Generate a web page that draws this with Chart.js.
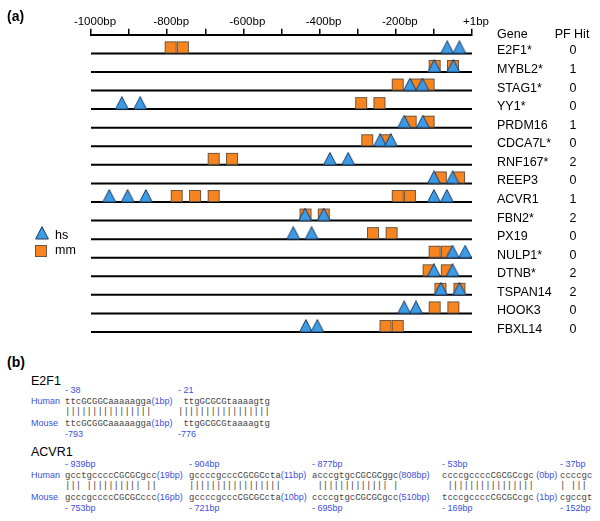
<!DOCTYPE html>
<html>
<head>
<meta charset="utf-8">
<script src="https://cdn.jsdelivr.net/npm/chart.js@4.4.0/dist/chart.umd.min.js"></script>
<style>
  body { margin: 0; background: #fff; width: 600px; height: 521px; position: relative; overflow: hidden;
         font-family: "Liberation Sans", Arial, sans-serif; }
  #wrap { position: absolute; left: 0; top: 0; width: 600px; height: 345px; }
  .t { position: absolute; white-space: pre; line-height: 1; }
  .lab { font-size: 14px; font-weight: bold; color: #000; }
  .gene { font-size: 12.5px; color: #000; }
  .sp { font-size: 9px; color: #3b4fe0; }
  .seq { font-family: "Liberation Mono", monospace; font-size: 9px; color: #444; }
  .bp { font-family: "Liberation Sans", Arial, sans-serif; font-size: 9px; color: #3b4fe0; }
</style>
</head>
<body>
<div id="wrap"><canvas id="myChart" width="600" height="345"></canvas></div>
<script>
// genes (rows, top to bottom) and PF hit counts
const genes = ['E2F1*', 'MYBL2*', 'STAG1*', 'YY1*', 'PRDM16', 'CDCA7L*', 'RNF167*', 'REEP3',
               'ACVR1', 'FBN2*', 'PX19', 'NULP1*', 'DTNB*', 'TSPAN14', 'HOOK3', 'FBXL14'];
const pfHit = [0, 1, 0, 0, 1, 0, 2, 0, 1, 2, 0, 0, 2, 2, 0, 0];

// human (hs) sites, bp upstream, one list per gene
const hsSites = [
  [-65, -33], [-99, -49], [-163, -130], [-919, -871], [-178, -129], [-241, -213],
  [-373, -325], [-100, -51], [-952, -904, -856, -100, -66], [-438, -389], [-469, -421],
  [-51, -18], [-100, -51], [-82, -33], [-178, -147], [-436, -406]
];
// mouse (mm) sites
const mmSites = [
  [-791, -759], [-98, -50], [-195, -146, -114], [-291, -243], [-161, -114], [-275, -227],
  [-678, -630], [-82, -34], [-775, -727, -678, -195, -163], [-437, -389], [-260, -211],
  [-98, -66], [-114, -66], [-83, -33], [-98, -49], [-227, -195]
];

const tickLabels = {0: '+1bp', '-200': '-200bp', '-400': '-400bp', '-600': '-600bp', '-800': '-800bp', '-1000': '-1000bp'};

// marker images: shape sits on top of the point (bottom edge at the centre)
function makeTri() {
  const c = document.createElement('canvas');
  c.width = 14; c.height = 26;
  const g = c.getContext('2d');
  g.beginPath();
  g.moveTo(7, 0.6); g.lineTo(13.4, 13); g.lineTo(0.6, 13); g.closePath();
  g.fillStyle = '#3d9be6'; g.fill();
  g.strokeStyle = '#1f3a60'; g.lineWidth = 1; g.stroke();
  return c;
}
function makeSq() {
  const c = document.createElement('canvas');
  c.width = 14; c.height = 26;
  const g = c.getContext('2d');
  g.fillStyle = '#f7841f';
  g.fillRect(1, 1, 12, 12);
  g.strokeStyle = '#6e5640'; g.lineWidth = 1;
  g.strokeRect(1.5, 1.5, 11, 11);
  return c;
}
const triImg = makeTri();
const sqImg = makeSq();

// gene / PF hit columns and the hs / mm key
const tablePlugin = {
  id: 'geneTable',
  afterDraw(chart) {
    const ctx = chart.ctx;
    const y = chart.scales.y;
    ctx.save();
    ctx.fillStyle = '#000';
    ctx.font = '12.5px "Liberation Sans", Arial, sans-serif';
    ctx.textBaseline = 'alphabetic';
    ctx.textAlign = 'left';
    ctx.fillText('Gene', 497, 38);
    ctx.textAlign = 'center';
    ctx.fillText('PF Hit', 572, 38);
    genes.forEach((g, i) => {
      const py = y.getPixelForValue(i) + 1;
      ctx.textAlign = 'left';
      ctx.fillText(g, 497, py);
      ctx.textAlign = 'center';
      ctx.fillText(String(pfHit[i]), 573, py);
    });
    ctx.drawImage(triImg, 35, 226);
    ctx.drawImage(sqImg, 34, 244);
    ctx.textAlign = 'left';
    ctx.fillText('hs', 55, 238.5);
    ctx.fillText('mm', 55, 254);
    ctx.restore();
  }
};

function loadChart() {
  const ctx = document.getElementById('myChart').getContext('2d');

  const rowLines = genes.map((g, i) => ({
    label: g,
    data: [{x: -1000, y: i}, {x: 0, y: i}],
    showLine: true,
    borderColor: '#000',
    borderWidth: 2,
    pointRadius: 0,
    order: 2,
    clip: false
  }));

  const hsData = hsSites.flatMap((arr, i) => arr.map(x => ({x: x, y: i})));
  const mmData = mmSites.flatMap((arr, i) => arr.map(x => ({x: x, y: i})));

  new Chart(ctx, {
    type: 'scatter',
    data: {
      datasets: [
        {label: 'hs', data: hsData, pointStyle: triImg, pointRadius: 7, order: 0, clip: false},
        {label: 'mm', data: mmData, pointStyle: sqImg, pointRadius: 7, order: 1, clip: false},
        ...rowLines
      ]
    },
    options: {
      responsive: false,
      animation: false,
      events: [],
      layout: {padding: {left: 91, right: 128, top: 15, bottom: 13}},
      plugins: {legend: {display: false}, tooltip: {enabled: false}},
      scales: {
        x: {
          type: 'linear',
          position: 'top',
          min: -1000,
          max: 0,
          ticks: {
            stepSize: 100,
            autoSkip: false,
            maxRotation: 0,
            padding: 0,
            labelOffset: 4,
            color: '#000',
            font: {family: '"Liberation Sans", Arial, sans-serif', size: 11.5},
            callback: v => tickLabels[v] || ''
          },
          grid: {drawOnChartArea: false, drawTicks: true, tickLength: 6, color: '#000', lineWidth: 1.5},
          border: {display: true, color: '#000', width: 2}
        },
        y: {type: 'linear', min: -1, max: 15, reverse: true, display: false}
      }
    },
    plugins: [tablePlugin]
  });
}

// part (b): alignment text
function put(x, y, html, cls) {
  const s = document.createElement('span');
  s.className = 't ' + cls;
  s.innerHTML = html;
  s.style.left = x + 'px';
  s.style.top = y + 'px';
  document.body.appendChild(s);
}
function pipes(a, b) {
  let out = '';
  for (let i = 0; i < a.length; i++) out += (a[i].toLowerCase() === b[i].toLowerCase()) ? '|' : ' ';
  return out;
}
function alignBlock(top, chunks) {
  put(31, top + 14, 'Human', 'sp');
  put(31, top + 36, 'Mouse', 'sp');
  chunks.forEach(c => {
    put(c.x, top + 3, c.hPos, 'sp');
    put(c.x, top + 14, c.h + '<span class="bp">' + c.hGap + '</span>', 'seq');
    put(c.x, top + 25, pipes(c.h, c.m), 'seq');
    put(c.x, top + 36, c.m + '<span class="bp">' + c.mGap + '</span>', 'seq');
    put(c.x, top + 47, c.mPos, 'sp');
  });
}

function loadPartB() {
  put(7, 9, '(a)', 'lab');
  put(7, 355, '(b)', 'lab');
  put(31, 375, 'E2F1', 'gene');
  alignBlock(383, [
    {x: 65, hPos: '- 38', mPos: '-793', h: 'ttcGCGGCaaaaagga', hGap: '(1bp)', m: 'ttcGCGGCaaaaagga', mGap: '(1bp)'},
    {x: 178, hPos: '- 21', mPos: '-776', h: ' ttgGCGCGtaaaagtg', hGap: '', m: ' ttgGCGCGtaaaagtg', mGap: ''}
  ]);
  put(31, 446, 'ACVR1', 'gene');
  alignBlock(457, [
    {x: 65, hPos: '- 939bp', mPos: '- 753bp', h: 'gcctgccccCGCGCgcc', hGap: '(19bp)', m: 'gcccgccccCGCGCccc', mGap: '(16pb)'},
    {x: 189, hPos: '- 904bp', mPos: '- 721bp', h: 'gccccgcccCGCGCcta', hGap: '(11bp)', m: 'gccccgcccCGCGCcta', mGap: '(10bp)'},
    {x: 312, hPos: '- 877bp', mPos: '- 695bp', h: 'acccgtgcCGCGCggc', hGap: '(808bp)', m: 'ccccgtgcCGCGCgcc', mGap: '(510bp)'},
    {x: 442, hPos: '- 53bp', mPos: '- 169bp', h: 'ccccgccccCGCGCcgc', hGap: ' (0bp)', m: 'tcccgccccCGCGCcgc', mGap: ' (1bp)'},
    {x: 560, hPos: '- 37bp', mPos: '- 152bp', h: 'ccccgc', hGap: '', m: 'cgccgt', mGap: ''}
  ]);
}

document.addEventListener('DOMContentLoaded', () => { loadChart(); loadPartB(); });
</script>
</body>
</html>
